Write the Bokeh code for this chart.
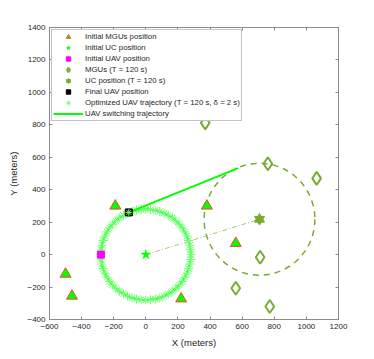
from bokeh.plotting import figure
from bokeh.models import (LinearAxis, Legend, LegendItem, Range1d, FixedTicker)
from bokeh.embed import file_html
from bokeh.resources import INLINE

# ---------------- data ----------------
mgu0_x = [-500, -460, 220, -190, 380, 560]
mgu0_y = [-120, -255, -272, 300, 300, 70]

uc0_x = [0]
uc0_y = [0]

uav0_x = [-280]
uav0_y = [0]

mgu_x = [370, 760, 1064, 712, 560, 772]
mgu_y = [812, 560, 470, -16, -207, -320]

uc_x = [708]
uc_y = [218]

uc_path_x = [0, 708]
uc_path_y = [0, 218]

uav_final_x = [-106]
uav_final_y = [260]

coverage_radius = [345]

traj_x = [-280, -278, -274, -266, -256, -242, -227, -208, -187, -165, -140, -114,
          -87, -58, -29, 0, 29, 58, 87, 114, 140, 165, 187, 208, 227, 242, 256,
          266, 274, 278, 280, 278, 274, 266, 256, 242, 227, 208, 187, 165, 140,
          114, 87, 58, 29, 0, -29, -58, -87, -106, -114, -140, -165, -187, -208,
          -227, -242, -256, -266, -274, -278, -280]
traj_y = [0, -29, -58, -87, -114, -140, -165, -187, -208, -227, -242, -256,
          -266, -274, -278, -280, -278, -274, -266, -256, -242, -227, -208, -187,
          -165, -140, -114, -87, -58, -29, 0, 29, 58, 87, 114, 140, 165, 187, 208,
          227, 242, 256, 266, 274, 278, 280, 278, 274, 266, 260, 256, 242, 227,
          208, 187, 165, 140, 114, 87, 58, 29, 0]

switch_x = [-106, 575]
switch_y = [260, 533]

x_ticks = [-600, -400, -200, 0, 200, 400, 600, 800, 1000, 1200]
y_ticks = [-400, -200, 0, 200, 400, 600, 800, 1000, 1200, 1400]

# ---------------- style ----------------
OLIVE = "#77ac30"
GREEN = "#00ff00"
LIGHTGREEN = "#70ff70"
AXC = "#262626"
BOXC = "#8a8a8a"
FONT = "Liberation Sans"

p = figure(frame_width=289, frame_height=292,
           min_border_left=49, min_border_right=36, min_border_top=27,
           min_border_bottom=40,
           x_range=Range1d(-600, 1200), y_range=Range1d(-400, 1400),
           output_backend="svg", toolbar_location=None,
           x_axis_label="X (meters)", y_axis_label="Y (meters)")
p.background_fill_color = "white"
p.border_fill_color = "white"
p.outline_line_color = BOXC
p.outline_line_width = 1
p.xgrid.visible = False
p.ygrid.visible = False

for ax, ticks in ((p.xaxis[0], x_ticks), (p.yaxis[0], y_ticks)):
    ax.ticker = FixedTicker(ticks=ticks)
    ax.axis_line_color = BOXC
    ax.major_tick_line_color = BOXC
    ax.major_tick_in = 3
    ax.major_tick_out = 0
    ax.minor_tick_line_color = None
    ax.major_label_text_font = FONT
    ax.major_label_text_font_size = "8px"
    ax.major_label_text_color = AXC
    ax.axis_label_text_font = FONT
    ax.axis_label_text_font_size = "9.5px"
    ax.axis_label_text_font_style = "normal"
    ax.axis_label_text_color = AXC
    ax.major_label_standoff = 4
    ax.axis_label_standoff = 5

for loc, ticks in (("right", y_ticks), ("above", x_ticks)):
    ax = LinearAxis(ticker=FixedTicker(ticks=ticks))
    ax.axis_line_color = BOXC
    ax.major_tick_line_color = BOXC
    ax.major_tick_in = 3
    ax.major_tick_out = 0
    ax.minor_tick_line_color = None
    ax.major_label_text_font_size = "0px"
    ax.major_label_text_alpha = 0
    p.add_layout(ax, loc)

# coverage circle
p.ellipse(x=uc_x, y=uc_y, width=[2 * r for r in coverage_radius],
          height=[2 * r for r in coverage_radius],
          fill_alpha=0, line_color=OLIVE, line_width=1.5, line_dash="6 5")

# UC path (dash-dot)
p.line(uc_path_x, uc_path_y, line_color="#a9c97a", line_width=1,
       line_dash="5 2 1 2")

# UAV trajectory
traj_line = p.line(traj_x, traj_y, line_color=GREEN, line_width=2)
r_traj = p.scatter(traj_x, traj_y, marker="asterisk", size=9,
                   line_color=LIGHTGREEN, line_width=1)

# switching trajectory
r_switch = p.line(switch_x, switch_y, line_color=GREEN, line_width=2)

# initial MGUs
r_mgu0 = p.scatter(mgu0_x, mgu0_y, marker="triangle", size=11,
                   fill_color=GREEN, line_color="#ff4a2a", line_width=1)
# initial UC
r_uc0 = p.scatter(uc0_x, uc0_y, marker="star", size=10,
                  fill_color=GREEN, line_color=GREEN, line_width=0.5)
# initial UAV
r_uav0 = p.scatter(uav0_x, uav0_y, marker="square", size=7,
                   fill_color="#ff00ff", line_color="#ff00ff")
# MGUs at T
r_mgu = p.scatter(mgu_x, mgu_y, marker="diamond", size=13,
                  fill_alpha=0, line_color=OLIVE, line_width=2)
# UC at T (hexagram)
r_uc_a = p.scatter(uc_x, uc_y, marker="triangle", size=10,
                   fill_color=OLIVE, line_color=OLIVE)
r_uc_b = p.scatter(uc_x, uc_y, marker="inverted_triangle", size=10,
                   fill_color=OLIVE, line_color=OLIVE)
r_uc_leg = p.line([], [], line_color="#b27fc0", line_width=1)
# final UAV
r_uavf = p.scatter(uav_final_x, uav_final_y, marker="square", size=7,
                   fill_color="black", line_color="black")
p.scatter(uav_final_x, uav_final_y, marker="asterisk", size=7,
          line_color=LIGHTGREEN, line_width=1)

legend = Legend(items=[
    LegendItem(label="Initial MGUs position", renderers=[r_mgu0]),
    LegendItem(label="Initial UC position", renderers=[r_uc0]),
    LegendItem(label="Initial UAV position", renderers=[r_uav0]),
    LegendItem(label="MGUs (T = 120 s)", renderers=[r_mgu]),
    LegendItem(label="UC position (T = 120 s)", renderers=[r_uc_leg, r_uc_a, r_uc_b]),
    LegendItem(label="Final UAV position", renderers=[r_uavf]),
    LegendItem(label="Optimized UAV trajectory (T = 120 s, \u03b4 = 2 s)", renderers=[r_traj]),
    LegendItem(label="UAV switching trajectory", renderers=[r_switch]),
], location="top_left")
legend.margin = 2
legend.padding = 1
legend.spacing = 0
legend.glyph_width = 30
legend.glyph_height = 11
legend.label_height = 11
legend.label_standoff = 2
legend.label_text_font = FONT
legend.label_text_font_size = "7.8px"
legend.label_text_color = AXC
legend.border_line_color = BOXC
legend.border_line_width = 1
legend.background_fill_color = "white"
legend.background_fill_alpha = 1
p.add_layout(legend, "center")

open("out.html", "w").write(file_html(p, INLINE))
